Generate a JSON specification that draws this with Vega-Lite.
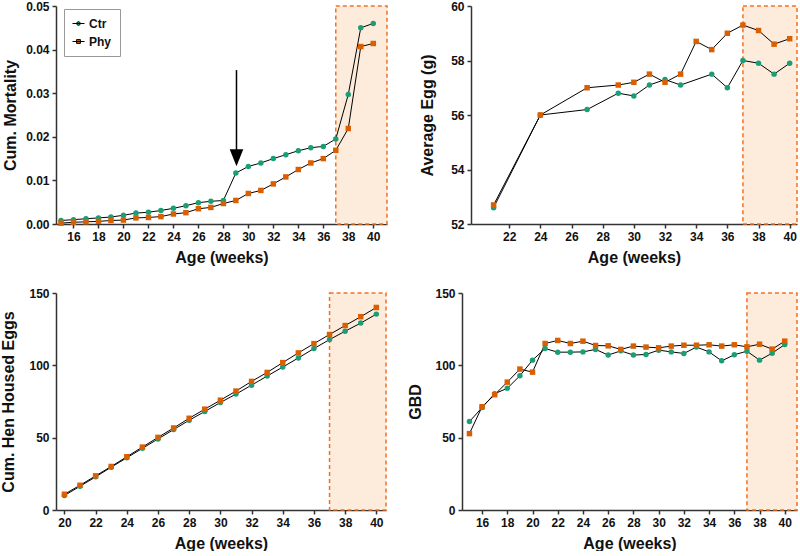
{
"$schema": "https://vega.github.io/schema/vega-lite/v6.json",
"padding": {"left": 0, "top": 0, "right": 0, "bottom": 0},
"config": {
 "view": {"stroke": null},
 "axis": {"grid": false, "domainColor": "#333", "domainWidth": 1.5, "tickColor": "#333", "tickWidth": 1.5, "tickSize": 4, "labelPadding": 3, "labelOverlap": false, "labelFlush": false, "labelFont": "Liberation Sans", "labelFontWeight": "bold", "labelFontSize": 12, "labelColor": "#111", "titleFont": "Liberation Sans", "titleFontWeight": "bold", "titleFontSize": 16, "titleColor": "#111"},
 "axisX": {"titlePadding": 7},
 "axisY": {"titlePadding": 8}
},
"datasets": {
 "mort": [
  {"week":15,"group":"Ctr","value":0.0008},{"week":16,"group":"Ctr","value":0.0010},{"week":17,"group":"Ctr","value":0.0012},{"week":18,"group":"Ctr","value":0.0014},{"week":19,"group":"Ctr","value":0.0016},{"week":20,"group":"Ctr","value":0.0020},{"week":21,"group":"Ctr","value":0.0025},{"week":22,"group":"Ctr","value":0.0027},{"week":23,"group":"Ctr","value":0.0031},{"week":24,"group":"Ctr","value":0.0036},{"week":25,"group":"Ctr","value":0.0042},{"week":26,"group":"Ctr","value":0.0049},{"week":27,"group":"Ctr","value":0.0052},{"week":28,"group":"Ctr","value":0.0054},{"week":29,"group":"Ctr","value":0.0117},{"week":30,"group":"Ctr","value":0.0132},{"week":31,"group":"Ctr","value":0.0140},{"week":32,"group":"Ctr","value":0.0150},{"week":33,"group":"Ctr","value":0.0159},{"week":34,"group":"Ctr","value":0.0168},{"week":35,"group":"Ctr","value":0.0175},{"week":36,"group":"Ctr","value":0.0178},{"week":37,"group":"Ctr","value":0.0195},{"week":38,"group":"Ctr","value":0.0297},{"week":39,"group":"Ctr","value":0.0450},{"week":40,"group":"Ctr","value":0.0460},
  {"week":15,"group":"Phy","value":0.0002},{"week":16,"group":"Phy","value":0.0004},{"week":17,"group":"Phy","value":0.0005},{"week":18,"group":"Phy","value":0.0006},{"week":19,"group":"Phy","value":0.0008},{"week":20,"group":"Phy","value":0.0009},{"week":21,"group":"Phy","value":0.0014},{"week":22,"group":"Phy","value":0.0015},{"week":23,"group":"Phy","value":0.0017},{"week":24,"group":"Phy","value":0.0023},{"week":25,"group":"Phy","value":0.0026},{"week":26,"group":"Phy","value":0.0035},{"week":27,"group":"Phy","value":0.0038},{"week":28,"group":"Phy","value":0.0047},{"week":29,"group":"Phy","value":0.0054},{"week":30,"group":"Phy","value":0.0070},{"week":31,"group":"Phy","value":0.0077},{"week":32,"group":"Phy","value":0.0092},{"week":33,"group":"Phy","value":0.0108},{"week":34,"group":"Phy","value":0.0125},{"week":35,"group":"Phy","value":0.0140},{"week":36,"group":"Phy","value":0.0150},{"week":37,"group":"Phy","value":0.0169},{"week":38,"group":"Phy","value":0.0219},{"week":39,"group":"Phy","value":0.0407},{"week":40,"group":"Phy","value":0.0414}
 ],
 "egg": [
  {"week":21,"group":"Ctr","value":52.6},{"week":24,"group":"Ctr","value":56.0},{"week":27,"group":"Ctr","value":56.2},{"week":29,"group":"Ctr","value":56.8},{"week":30,"group":"Ctr","value":56.7},{"week":31,"group":"Ctr","value":57.1},{"week":32,"group":"Ctr","value":57.3},{"week":33,"group":"Ctr","value":57.1},{"week":35,"group":"Ctr","value":57.5},{"week":36,"group":"Ctr","value":57.0},{"week":37,"group":"Ctr","value":58.0},{"week":38,"group":"Ctr","value":57.9},{"week":39,"group":"Ctr","value":57.5},{"week":40,"group":"Ctr","value":57.9},
  {"week":21,"group":"Phy","value":52.7},{"week":24,"group":"Phy","value":56.0},{"week":27,"group":"Phy","value":57.0},{"week":29,"group":"Phy","value":57.1},{"week":30,"group":"Phy","value":57.2},{"week":31,"group":"Phy","value":57.5},{"week":32,"group":"Phy","value":57.2},{"week":33,"group":"Phy","value":57.5},{"week":34,"group":"Phy","value":58.7},{"week":35,"group":"Phy","value":58.4},{"week":36,"group":"Phy","value":59.0},{"week":37,"group":"Phy","value":59.3},{"week":38,"group":"Phy","value":59.1},{"week":39,"group":"Phy","value":58.6},{"week":40,"group":"Phy","value":58.8}
 ],
 "hen": [
  {"week":20,"group":"Ctr","value":10.0},{"week":21,"group":"Ctr","value":16.4},{"week":22,"group":"Ctr","value":22.9},{"week":23,"group":"Ctr","value":29.6},{"week":24,"group":"Ctr","value":36.1},{"week":25,"group":"Ctr","value":42.6},{"week":26,"group":"Ctr","value":49.1},{"week":27,"group":"Ctr","value":55.6},{"week":28,"group":"Ctr","value":62.0},{"week":29,"group":"Ctr","value":68.1},{"week":30,"group":"Ctr","value":74.3},{"week":31,"group":"Ctr","value":80.1},{"week":32,"group":"Ctr","value":86.3},{"week":33,"group":"Ctr","value":92.6},{"week":34,"group":"Ctr","value":98.8},{"week":35,"group":"Ctr","value":105.1},{"week":36,"group":"Ctr","value":111.6},{"week":37,"group":"Ctr","value":117.8},{"week":38,"group":"Ctr","value":123.6},{"week":39,"group":"Ctr","value":129.2},{"week":40,"group":"Ctr","value":135.4},
  {"week":20,"group":"Phy","value":10.9},{"week":21,"group":"Phy","value":17.1},{"week":22,"group":"Phy","value":23.6},{"week":23,"group":"Phy","value":30.1},{"week":24,"group":"Phy","value":36.8},{"week":25,"group":"Phy","value":43.5},{"week":26,"group":"Phy","value":50.2},{"week":27,"group":"Phy","value":56.7},{"week":28,"group":"Phy","value":63.4},{"week":29,"group":"Phy","value":69.7},{"week":30,"group":"Phy","value":75.9},{"week":31,"group":"Phy","value":82.2},{"week":32,"group":"Phy","value":88.9},{"week":33,"group":"Phy","value":95.1},{"week":34,"group":"Phy","value":101.9},{"week":35,"group":"Phy","value":108.6},{"week":36,"group":"Phy","value":115.0},{"week":37,"group":"Phy","value":121.3},{"week":38,"group":"Phy","value":127.5},{"week":39,"group":"Phy","value":133.6},{"week":40,"group":"Phy","value":140.0}
 ],
 "gbd": [
  {"week":15,"group":"Ctr","value":61.1},{"week":16,"group":"Ctr","value":70.8},{"week":17,"group":"Ctr","value":80.4},{"week":18,"group":"Ctr","value":84.1},{"week":19,"group":"Ctr","value":92.8},{"week":20,"group":"Ctr","value":103.6},{"week":21,"group":"Ctr","value":111.6},{"week":22,"group":"Ctr","value":109.1},{"week":23,"group":"Ctr","value":109.1},{"week":24,"group":"Ctr","value":109.3},{"week":25,"group":"Ctr","value":111.0},{"week":26,"group":"Ctr","value":107.1},{"week":27,"group":"Ctr","value":110.0},{"week":28,"group":"Ctr","value":107.1},{"week":29,"group":"Ctr","value":107.5},{"week":30,"group":"Ctr","value":110.5},{"week":31,"group":"Ctr","value":109.3},{"week":32,"group":"Ctr","value":108.2},{"week":33,"group":"Ctr","value":112.6},{"week":34,"group":"Ctr","value":109.3},{"week":35,"group":"Ctr","value":103.1},{"week":36,"group":"Ctr","value":107.3},{"week":37,"group":"Ctr","value":109.8},{"week":38,"group":"Ctr","value":103.6},{"week":39,"group":"Ctr","value":108.4},{"week":40,"group":"Ctr","value":114.4},
  {"week":15,"group":"Phy","value":52.8},{"week":16,"group":"Phy","value":71.4},{"week":17,"group":"Phy","value":79.7},{"week":18,"group":"Phy","value":88.4},{"week":19,"group":"Phy","value":97.4},{"week":20,"group":"Phy","value":95.3},{"week":21,"group":"Phy","value":115.1},{"week":22,"group":"Phy","value":117.2},{"week":23,"group":"Phy","value":115.1},{"week":24,"group":"Phy","value":116.7},{"week":25,"group":"Phy","value":113.7},{"week":26,"group":"Phy","value":113.5},{"week":27,"group":"Phy","value":111.0},{"week":28,"group":"Phy","value":113.3},{"week":29,"group":"Phy","value":112.6},{"week":30,"group":"Phy","value":112.1},{"week":31,"group":"Phy","value":113.3},{"week":32,"group":"Phy","value":113.9},{"week":33,"group":"Phy","value":113.9},{"week":34,"group":"Phy","value":114.2},{"week":35,"group":"Phy","value":113.3},{"week":36,"group":"Phy","value":114.2},{"week":37,"group":"Phy","value":112.8},{"week":38,"group":"Phy","value":114.6},{"week":39,"group":"Phy","value":111.2},{"week":40,"group":"Phy","value":116.7}
 ]
},
"spacing": 22,
"resolve": {"scale": {"color": "independent", "shape": "independent"}},
"vconcat": [
 {
  "hconcat": [
   {
    "width": 331, "height": 218,
    "layer": [
     {"data": {"values": [{}]}, "mark": {"type": "rect", "fill": "#fdecdc", "stroke": "#f37021", "strokeDash": [4, 3], "strokeWidth": 1.5},
      "encoding": {
       "x": {"datum": 37, "type": "quantitative", "title": "Age (weeks)", "scale": {"domain": [14.6, 41.1], "nice": false, "zero": false}, "axis": {"values": [16,18,20,22,24,26,28,30,32,34,36,38,40], "tickCount": 40, "format": "d"}},
       "x2": {"datum": 41.1},
       "y": {"datum": 0, "type": "quantitative", "title": "Cum. Mortality", "scale": {"domain": [0, 0.05], "nice": false}, "axis": {"values": [0,0.01,0.02,0.03,0.04,0.05], "tickCount": 20, "format": ".2f", "titlePadding": 7}},
       "y2": {"datum": 0.05}}},
     {"data": {"name": "mort"}, "mark": {"type": "line", "color": "black", "strokeWidth": 1},
      "encoding": {
       "x": {"field": "week", "type": "quantitative", "title": "Age (weeks)", "axis": {"values": [16,18,20,22,24,26,28,30,32,34,36,38,40], "tickCount": 40, "format": "d"}},
       "y": {"field": "value", "type": "quantitative", "title": "Cum. Mortality", "axis": {"values": [0,0.01,0.02,0.03,0.04,0.05], "tickCount": 20, "format": ".2f", "titlePadding": 7}},
       "detail": {"field": "group"}}},
     {"data": {"name": "mort"}, "transform": [{"filter": "datum.group === 'Ctr'"}], "mark": {"type": "point", "filled": true, "size": 30, "opacity": 1},
      "encoding": {
       "x": {"field": "week", "type": "quantitative", "title": "Age (weeks)"},
       "y": {"field": "value", "type": "quantitative", "title": "Cum. Mortality"},
       "color": {"field": "group", "type": "nominal", "scale": {"domain": ["Ctr", "Phy"], "range": ["#1b9e77", "#d95f02"]},
        "legend": {"title": null, "orient": "none", "legendX": 8, "legendY": 3, "strokeColor": "#999", "fillColor": "white", "padding": 8, "cornerRadius": 0, "rowPadding": 5, "labelFont": "Liberation Sans", "labelFontWeight": "bold", "labelFontSize": 12, "labelColor": "#111", "symbolSize": 144, "symbolOpacity": 1,
         "encode": {"symbols": {"update": {"shape": {"signal": "datum.value === 'Ctr' ? 'M-1,0H1M-0.3,0A0.3,0.3 0 1,0 0.3,0A0.3,0.3 0 1,0 -0.3,0Z' : 'M-1,0H1M-0.32,-0.32H0.32V0.32H-0.32Z'"}, "stroke": {"value": "black"}, "strokeWidth": {"value": 1}}}}}}}},
     {"data": {"name": "mort"}, "transform": [{"filter": "datum.group === 'Phy'"}], "mark": {"type": "point", "filled": true, "size": 30, "opacity": 1, "shape": "square"},
      "encoding": {
       "x": {"field": "week", "type": "quantitative", "title": "Age (weeks)"},
       "y": {"field": "value", "type": "quantitative", "title": "Cum. Mortality"},
       "color": {"field": "group", "type": "nominal", "scale": {"domain": ["Ctr", "Phy"], "range": ["#1b9e77", "#d95f02"]}, "legend": null}}},
     {"data": {"values": [{}]}, "mark": {"type": "rule", "color": "black", "strokeWidth": 1.5},
      "encoding": {"x": {"datum": 29.05, "type": "quantitative", "title": "Age (weeks)"}, "y": {"datum": 0.0353, "type": "quantitative", "title": "Cum. Mortality"}, "y2": {"datum": 0.0165}}},
     {"data": {"values": [{}]}, "mark": {"type": "point", "filled": true, "opacity": 1, "color": "black", "size": 289, "shape": "M-0.8,-1L0.8,-1L0,1Z"},
      "encoding": {"x": {"datum": 29.05, "type": "quantitative", "title": "Age (weeks)"}, "y": {"datum": 0.0152, "type": "quantitative", "title": "Cum. Mortality"}}}
    ]
   },
   {
    "width": 326, "height": 218,
    "layer": [
     {"data": {"values": [{}]}, "mark": {"type": "rect", "fill": "#fdecdc", "stroke": "#f37021", "strokeDash": [4, 3], "strokeWidth": 1.5},
      "encoding": {
       "x": {"datum": 37, "type": "quantitative", "title": "Age (weeks)", "scale": {"domain": [19.55, 40.47], "nice": false, "zero": false}, "axis": {"values": [22,24,26,28,30,32,34,36,38,40], "tickCount": 40, "format": "d"}},
       "x2": {"datum": 40.47},
       "y": {"datum": 52, "type": "quantitative", "title": "Average  Egg (g)", "scale": {"domain": [52, 60], "nice": false, "zero": false}, "axis": {"values": [52,54,56,58,60], "tickCount": 20, "format": "d", "titlePadding": 15}},
       "y2": {"datum": 60}}},
     {"data": {"name": "egg"}, "mark": {"type": "line", "color": "black", "strokeWidth": 1},
      "encoding": {
       "x": {"field": "week", "type": "quantitative", "title": "Age (weeks)", "axis": {"values": [22,24,26,28,30,32,34,36,38,40], "tickCount": 40, "format": "d"}},
       "y": {"field": "value", "type": "quantitative", "title": "Average  Egg (g)", "axis": {"values": [52,54,56,58,60], "tickCount": 20, "format": "d", "titlePadding": 15}},
       "detail": {"field": "group"}}},
     {"data": {"name": "egg"}, "mark": {"type": "point", "filled": true, "size": 30, "opacity": 1},
      "encoding": {
       "x": {"field": "week", "type": "quantitative", "title": "Age (weeks)"},
       "y": {"field": "value", "type": "quantitative", "title": "Average  Egg (g)"},
       "color": {"field": "group", "type": "nominal", "scale": {"domain": ["Ctr", "Phy"], "range": ["#1b9e77", "#d95f02"]}, "legend": null},
       "shape": {"field": "group", "type": "nominal", "scale": {"domain": ["Ctr", "Phy"], "range": ["circle", "square"]}, "legend": null}}}
    ]
   }
  ],
  "spacing": 84,
  "bounds": "flush",
  "resolve": {"scale": {"color": "independent", "shape": "independent"}}
 },
 {
  "hconcat": [
   {
    "width": 330, "height": 217,
    "layer": [
     {"data": {"values": [{}]}, "mark": {"type": "rect", "fill": "#fdecdc", "stroke": "#f37021", "strokeDash": [4, 3], "strokeWidth": 1.5},
      "encoding": {
       "x": {"datum": 37, "type": "quantitative", "title": "Age (weeks)", "scale": {"domain": [19.46, 40.62], "nice": false, "zero": false}, "axis": {"values": [20,22,24,26,28,30,32,34,36,38,40], "tickCount": 40, "format": "d"}},
       "x2": {"datum": 40.62},
       "y": {"datum": 0, "type": "quantitative", "title": "Cum. Hen Housed Eggs", "scale": {"domain": [0, 150], "nice": false}, "axis": {"values": [0,50,100,150], "tickCount": 20, "format": "d", "titlePadding": 12}},
       "y2": {"datum": 150}}},
     {"data": {"name": "hen"}, "mark": {"type": "line", "color": "black", "strokeWidth": 1},
      "encoding": {
       "x": {"field": "week", "type": "quantitative", "title": "Age (weeks)", "axis": {"values": [20,22,24,26,28,30,32,34,36,38,40], "tickCount": 40, "format": "d"}},
       "y": {"field": "value", "type": "quantitative", "title": "Cum. Hen Housed Eggs", "axis": {"values": [0,50,100,150], "tickCount": 20, "format": "d", "titlePadding": 12}},
       "detail": {"field": "group"}}},
     {"data": {"name": "hen"}, "mark": {"type": "point", "filled": true, "size": 30, "opacity": 1},
      "encoding": {
       "x": {"field": "week", "type": "quantitative", "title": "Age (weeks)"},
       "y": {"field": "value", "type": "quantitative", "title": "Cum. Hen Housed Eggs"},
       "color": {"field": "group", "type": "nominal", "scale": {"domain": ["Ctr", "Phy"], "range": ["#1b9e77", "#d95f02"]}, "legend": null},
       "shape": {"field": "group", "type": "nominal", "scale": {"domain": ["Ctr", "Phy"], "range": ["circle", "square"]}, "legend": null}}}
    ]
   },
   {
    "width": 335, "height": 217,
    "layer": [
     {"data": {"values": [{}]}, "mark": {"type": "rect", "fill": "#fdecdc", "stroke": "#f37021", "strokeDash": [4, 3], "strokeWidth": 1.5},
      "encoding": {
       "x": {"datum": 37, "type": "quantitative", "title": "Age (weeks)", "scale": {"domain": [14.41, 40.97], "nice": false, "zero": false}, "axis": {"values": [16,18,20,22,24,26,28,30,32,34,36,38,40], "tickCount": 40, "format": "d"}},
       "x2": {"datum": 40.97},
       "y": {"datum": 0, "type": "quantitative", "title": "GBD", "scale": {"domain": [0, 150], "nice": false}, "axis": {"values": [0,50,100,150], "tickCount": 20, "format": "d", "titlePadding": 11}},
       "y2": {"datum": 150}}},
     {"data": {"name": "gbd"}, "mark": {"type": "line", "color": "black", "strokeWidth": 1},
      "encoding": {
       "x": {"field": "week", "type": "quantitative", "title": "Age (weeks)", "axis": {"values": [16,18,20,22,24,26,28,30,32,34,36,38,40], "tickCount": 40, "format": "d"}},
       "y": {"field": "value", "type": "quantitative", "title": "GBD", "axis": {"values": [0,50,100,150], "tickCount": 20, "format": "d", "titlePadding": 11}},
       "detail": {"field": "group"}}},
     {"data": {"name": "gbd"}, "mark": {"type": "point", "filled": true, "size": 30, "opacity": 1},
      "encoding": {
       "x": {"field": "week", "type": "quantitative", "title": "Age (weeks)"},
       "y": {"field": "value", "type": "quantitative", "title": "GBD"},
       "color": {"field": "group", "type": "nominal", "scale": {"domain": ["Ctr", "Phy"], "range": ["#1b9e77", "#d95f02"]}, "legend": null},
       "shape": {"field": "group", "type": "nominal", "scale": {"domain": ["Ctr", "Phy"], "range": ["circle", "square"]}, "legend": null}}}
    ]
   }
  ],
  "spacing": 76,
  "bounds": "flush",
  "resolve": {"scale": {"color": "independent", "shape": "independent"}}
 }
]
}
